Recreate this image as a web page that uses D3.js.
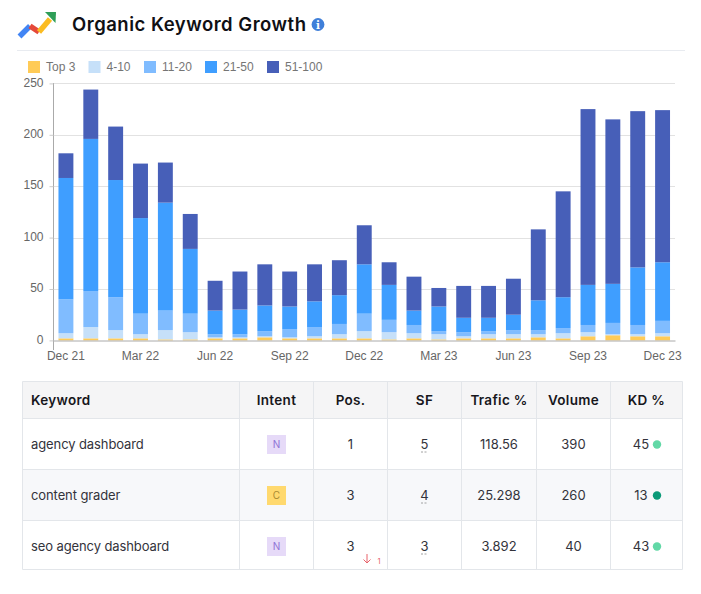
<!DOCTYPE html>
<html lang="en">
<head>
<meta charset="utf-8">
<title>Organic Keyword Growth</title>
<style>
  body { margin: 0; background: #fff; overflow: hidden; }
  svg { display: block; }
  .axis text { font-family: "Liberation Sans", Arial, sans-serif; font-size: 12px; fill: #666; }
  .tbl { font-family: Inter, "Open Sans", sans-serif; font-size: 13px; fill: #33333b; }
  .tbl.head { font-weight: 600; font-size: 13.5px; fill: #17171c; letter-spacing: 0.3px; }
</style>
</head>
<body>
<svg id="chart" width="701" height="594"></svg>
<script src="https://d3js.org/d3.v7.min.js"></script>
<script>
// chart values
const months = ["Dec 21","Jan 22","Feb 22","Mar 22","Apr 22","May 22","Jun 22","Jul 22","Aug 22","Sep 22","Oct 22","Nov 22",
  "Dec 22","Jan 23","Feb 23","Mar 23","Apr 23","May 23","Jun 23","Jul 23","Aug 23","Sep 23","Oct 23","Nov 23","Dec 23"];
const seriesNames = ["Top 3","4-10","11-20","21-50","51-100"];
const top3    = [2,2,2,2,1,1,2,2,3,2,2,2,2,1,2,1,2,2,2,3,2,4,5,4,4];
const pos4to10   = [5,11,8,4,9,7,1,1,1,1,2,4,7,7,5,5,2,4,4,3,5,4,1,2,3];
const pos11to20  = [33,35,32,20,19,18,3,3,5,8,9,10,17,12,8,3,4,3,4,4,5,7,11,9,12];
const pos21to50  = [118,148,114,93,105,63,23,24,25,22,25,28,48,34,14,24,14,13,15,29,30,39,38,56,57];
const pos51to100 = [24,48,52,53,39,34,29,37,40,34,36,34,38,22,33,18,31,31,35,69,103,171,160,152,148];
const seriesValues = [top3,pos4to10,pos11to20,pos21to50,pos51to100];
const colors = ["#ffcb57","#c6e0f9","#80bcff","#3f9eff","#475fb8"];
const yTicks = [0,50,100,150,200,250];
const xTicks = ["Dec 21","Mar 22","Jun 22","Sep 22","Dec 22","Mar 23","Jun 23","Sep 23","Dec 23"];

// table values
const headers  = ["Keyword","Intent","Pos.","SF","Trafic %","Volume","KD %"];
const keywords = ["agency dashboard","content grader","seo agency dashboard"];
const intents  = ["N","C","N"];
const positions = [1,3,3];
const serpFeatures = [5,4,3];
const traffic  = ["118.56","25.298","3.892"];
const volumes  = [390,260,40];
const kd       = [45,13,43];

const svg = d3.select("#chart");

// header: logo, title, info icon
const logo = svg.append("g").attr("fill","none").attr("stroke-width",5.5);
logo.append("path").attr("d","M19.5 36.5L30 26").attr("stroke","#4285f4");
logo.append("path").attr("d","M30 26L39 32").attr("stroke","#e5493a");
logo.append("path").attr("d","M39 32L50 19").attr("stroke","#fbbc22");
logo.append("path").attr("d","M45 12L56 12L55.5 23Z").attr("fill","#2f9e57").attr("stroke","none");

svg.append("text").attr("x",72).attr("y",30.5)
  .attr("font-family","Inter, sans-serif").attr("font-size",18.5).attr("font-weight",600)
  .attr("fill","#101014").attr("textLength",234).attr("lengthAdjust","spacing")
  .text("Organic Keyword Growth");
svg.append("circle").attr("cx",318).attr("cy",24.5).attr("r",6.4).attr("fill","#3f7fd9");
svg.append("text").attr("x",318).attr("y",28.7).attr("text-anchor","middle")
  .attr("font-family","DejaVu Serif, serif").attr("font-size",10.5).attr("font-weight",700)
  .attr("fill","#fff").text("i");

svg.append("line").attr("x1",17).attr("x2",685).attr("y1",50.5).attr("y2",50.5).attr("stroke","#e8ebf0");

// legend
const legendX = [28,88.5,144,205,267];
const legend = svg.append("g").selectAll("g").data(seriesNames).join("g")
  .attr("transform",(d,i) => `translate(${legendX[i]},61)`);
legend.append("rect").attr("width",12).attr("height",12).attr("fill",(d,i) => colors[i]);
legend.append("text").attr("x",18).attr("y",9.5)
  .attr("font-family","Liberation Sans, Arial, sans-serif").attr("font-size",12).attr("fill","#757575")
  .text(d => d);

// scales
const x = d3.scaleBand().domain(months).range([53.5,675]).paddingInner(0.4).paddingOuter(0.2);
const y = d3.scaleLinear().domain([0,250]).range([340.4,83.4]);

// grid
svg.append("g").selectAll("line").data(yTicks.slice(1)).join("line")
  .attr("x1",53.5).attr("x2",675).attr("y1",d => Math.round(y(d))+0.5).attr("y2",d => Math.round(y(d))+0.5)
  .attr("stroke","#e2e2e2");

// stacked bars
const rows = months.map((m,i) => {
  const r = { month: m };
  seriesNames.forEach((s,k) => { r[s] = seriesValues[k][i]; });
  return r;
});
const stacked = d3.stack().keys(seriesNames)(rows);
svg.append("g").selectAll("g").data(stacked).join("g")
  .attr("fill",(d,i) => colors[i])
  .selectAll("rect").data(d => d).join("rect")
  .attr("x",d => x(d.data.month))
  .attr("width",x.bandwidth())
  .attr("y",d => y(d[1]))
  .attr("height",d => y(d[0]) - y(d[1]));

// axes
const xAxis = svg.append("g").attr("class","axis").attr("transform","translate(0,340.5)")
  .call(d3.axisBottom(x).tickValues(xTicks).tickSize(0).tickPadding(11));
xAxis.select(".domain").attr("stroke","#aaa");
const yAxis = svg.append("g").attr("class","axis").attr("transform","translate(53.5,0)")
  .call(d3.axisLeft(y).tickValues(yTicks).tickSize(4).tickPadding(6).tickFormat(d3.format("d")));
yAxis.select(".domain").attr("stroke","#aaa").attr("d","M0,83V350");
yAxis.selectAll(".tick line").attr("stroke","#ccc");
yAxis.selectAll(".tick text").attr("dy","0.22em");

// table
const colEdges = [22.5,239.5,313.5,387.5,461.5,536.5,610.5,682.5];
const rowEdges = [381.5,418.5,469.5,520.5,569.5];
const colCenter = i => (colEdges[i] + colEdges[i+1]) / 2;
const rowCenter = i => rowEdges[i+1] + 26;
const tableColors = { head: "#f5f5f6", stripe: "#f7f8fa", line: "#e3e6ea" };

const tbl = svg.append("g");
tbl.append("rect").attr("x",colEdges[0]).attr("y",rowEdges[0])
  .attr("width",colEdges[7]-colEdges[0]).attr("height",rowEdges[1]-rowEdges[0]).attr("fill",tableColors.head);
tbl.append("rect").attr("x",colEdges[0]).attr("y",rowEdges[2])
  .attr("width",colEdges[7]-colEdges[0]).attr("height",rowEdges[3]-rowEdges[2]).attr("fill",tableColors.stripe);
tbl.selectAll("line.v").data(colEdges).join("line").attr("class","v")
  .attr("x1",d => d).attr("x2",d => d).attr("y1",rowEdges[0]).attr("y2",rowEdges[4]).attr("stroke",tableColors.line);
tbl.selectAll("line.h").data(rowEdges).join("line").attr("class","h")
  .attr("y1",d => d).attr("y2",d => d).attr("x1",colEdges[0]).attr("x2",colEdges[7]).attr("stroke",tableColors.line);

tbl.selectAll("text.head").data(headers).join("text").attr("class","tbl head")
  .attr("x",(d,i) => i === 0 ? 31 : colCenter(i))
  .attr("y",405)
  .attr("text-anchor",(d,i) => i === 0 ? "start" : "middle")
  .text(d => d);

function cellText(values, col) {
  return tbl.append("g").selectAll("text").data(values).join("text").attr("class","tbl")
    .attr("x",colCenter(col)).attr("y",(d,i) => rowCenter(i)+4.5)
    .attr("text-anchor","middle").text(d => d);
}

tbl.append("g").selectAll("text").data(keywords).join("text").attr("class","tbl")
  .attr("x",31).attr("y",(d,i) => rowCenter(i)+4.5).attr("letter-spacing",-0.1).text(d => d);

// intent badges
const intentFill = { N: "#e6daf8", C: "#ffd96e" };
const intentText = { N: "#8f74d6", C: "#a98a33" };
const badge = tbl.append("g").selectAll("g").data(intents).join("g")
  .attr("transform",(d,i) => `translate(${colCenter(1)},${rowCenter(i)})`);
badge.append("rect").attr("x",-9.5).attr("y",-9.5).attr("width",19).attr("height",19)
  .attr("fill",d => intentFill[d]);
badge.append("text").attr("text-anchor","middle").attr("y",3.5)
  .attr("font-family","Inter, sans-serif").attr("font-size",10).attr("fill",d => intentText[d]).text(d => d);

cellText(positions,2);
cellText(serpFeatures,3);
tbl.append("g").selectAll("line").data(serpFeatures).join("line")
  .attr("x1",colCenter(3)-3.5).attr("x2",colCenter(3)+3.5)
  .attr("y1",(d,i) => rowCenter(i)+7.5).attr("y2",(d,i) => rowCenter(i)+7.5)
  .attr("stroke","#8a8a8a").attr("stroke-width",0.8).attr("stroke-dasharray","2 1.5");
cellText(traffic,4);
cellText(volumes,5);

// KD value and dot
tbl.append("g").selectAll("text").data(kd).join("text").attr("class","tbl")
  .attr("x",641).attr("y",(d,i) => rowCenter(i)+4.5).attr("text-anchor","middle").text(d => d);
tbl.append("g").selectAll("circle").data(kd).join("circle")
  .attr("cx",657).attr("cy",(d,i) => rowCenter(i)).attr("r",4.2)
  .attr("fill",d => d < 20 ? "#0b9a78" : "#62d8a6");

// position change on the last row
tbl.append("path").attr("d","M367 554V563M363.5 559.5L367 563L370.5 559.5")
  .attr("fill","none").attr("stroke","#e8636b").attr("stroke-width",1);
tbl.append("text").attr("x",379).attr("y",564).attr("text-anchor","middle")
  .attr("font-family","Inter, sans-serif").attr("font-size",7.5).attr("fill","#e8636b").text("1");
</script>
</body>
</html>
